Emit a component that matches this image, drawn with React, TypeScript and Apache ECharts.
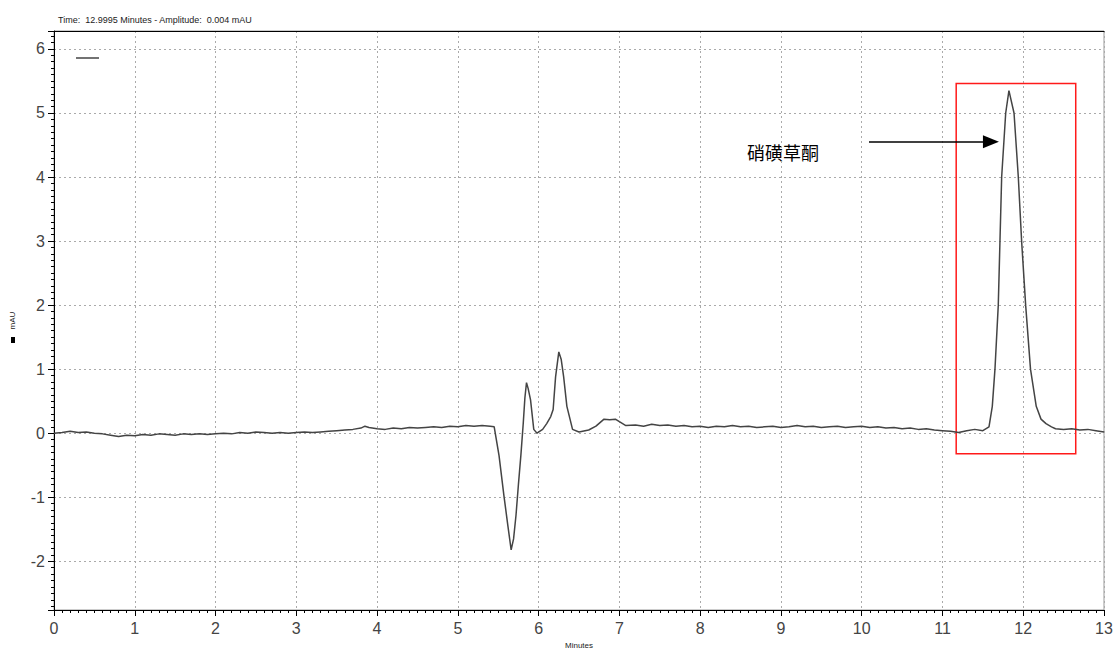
import React, { useEffect, useRef } from "react";
import * as echarts from "echarts";

const times: number[] = [
  0.0, 0.1, 0.2, 0.3, 0.4, 0.5, 0.6, 0.7, 0.8, 0.9,
  1.0, 1.1, 1.2, 1.3, 1.4, 1.5, 1.6, 1.7, 1.8, 1.9,
  2.0, 2.1, 2.2, 2.3, 2.4, 2.5, 2.6, 2.7, 2.8, 2.9,
  3.0, 3.1, 3.2, 3.3, 3.4, 3.5, 3.6, 3.7, 3.8, 3.85, 3.9,
  4.0, 4.1, 4.2, 4.3, 4.4, 4.5, 4.6, 4.7, 4.8, 4.9,
  5.0, 5.1, 5.2, 5.3, 5.4, 5.45, 5.51, 5.57, 5.62, 5.66, 5.69, 5.72, 5.75, 5.78,
  5.81, 5.83, 5.85, 5.87, 5.9, 5.94, 5.98, 6.05, 6.1, 6.15, 6.18, 6.21, 6.25, 6.28,
  6.31, 6.35, 6.42, 6.5, 6.62, 6.71, 6.81, 6.88, 6.95, 7.0, 7.08,
  7.2, 7.3, 7.4, 7.5, 7.6, 7.7, 7.8, 7.9,
  8.0, 8.1, 8.2, 8.3, 8.4, 8.5, 8.6, 8.7, 8.8, 8.9,
  9.0, 9.1, 9.2, 9.3, 9.4, 9.5, 9.6, 9.7, 9.8, 9.9,
  10.0, 10.1, 10.2, 10.3, 10.4, 10.5, 10.6, 10.7, 10.8, 10.9,
  11.0, 11.1, 11.2, 11.3, 11.4, 11.5, 11.576, 11.617, 11.65, 11.691, 11.712, 11.733,
  11.783, 11.823, 11.886, 11.939, 11.98, 12.03, 12.09, 12.161, 12.22, 12.282,
  12.35, 12.4, 12.5, 12.6, 12.7, 12.8, 12.9, 13.0,
];

const amplitudes: number[] = [
  0.0, 0.01, 0.03, 0.01, 0.02, 0.0, -0.01, -0.03, -0.05, -0.03,
  -0.04, -0.02, -0.03, -0.01, -0.02, -0.03, -0.01, -0.02, -0.01, -0.02,
  -0.01, 0.0, -0.01, 0.01, 0.0, 0.02, 0.01, 0.0, 0.01, 0.0,
  0.01, 0.02, 0.01, 0.02, 0.03, 0.04, 0.05, 0.06, 0.08, 0.11, 0.09,
  0.07, 0.06, 0.08, 0.07, 0.09, 0.08, 0.09, 0.1, 0.09, 0.11,
  0.1, 0.12, 0.11, 0.12, 0.11, 0.1, -0.35, -0.97, -1.45, -1.82, -1.65, -1.28, -0.8, -0.35,
  0.16, 0.55, 0.79, 0.7, 0.52, 0.06, 0.0, 0.06, 0.15, 0.26, 0.37, 0.88, 1.27, 1.15,
  0.88, 0.42, 0.06, 0.02, 0.05, 0.11, 0.22, 0.21, 0.22, 0.18, 0.12,
  0.13, 0.11, 0.14, 0.12, 0.13, 0.11, 0.12, 0.1,
  0.11, 0.09, 0.11, 0.1, 0.12, 0.1, 0.11, 0.09, 0.1, 0.11,
  0.09, 0.1, 0.12, 0.1, 0.11, 0.09, 0.1, 0.11, 0.09, 0.1,
  0.11, 0.09, 0.1, 0.08, 0.09, 0.07, 0.08, 0.06, 0.07, 0.05,
  0.04, 0.03, 0.01, 0.04, 0.06, 0.04, 0.1, 0.42, 1.0, 2.0, 3.0, 4.0,
  5.0, 5.35, 5.0, 4.0, 3.0, 2.0, 1.0, 0.42, 0.22, 0.15,
  0.1, 0.07, 0.06, 0.07, 0.05, 0.06, 0.04, 0.02,
];

const headerText = "Time:  12.9995 Minutes - Amplitude:  0.004 mAU";
const peakLabel = "硝磺草酮";
const xName = "Minutes";
const yName = "mAU";
const highlightBox = { x0: 11.17, x1: 12.65, y0: -0.32, y1: 5.46 };
const arrowFrom = [10.09, 4.55];
const arrowTo = [11.6, 4.55];

const SANS = "Liberation Sans, Arial, sans-serif";

export default function App() {
  const ref = useRef<HTMLDivElement>(null);
  useEffect(() => {
    if (!ref.current) return;
    const chart = echarts.init(ref.current, null, { renderer: "svg" });
    const data = times.map((t, i) => [t, amplitudes[i]]);
    chart.setOption({
      animation: false,
      backgroundColor: "#fff",
      title: {
        text: headerText,
        left: 53,
        top: 10,
        textStyle: { fontSize: 9, fontWeight: "normal", color: "#222", fontFamily: SANS },
      },
      grid: {
        left: 54,
        right: 16,
        top: 31,
        bottom: 38,
        show: true,
        borderColor: "#999",
        borderWidth: 1,
      },
      xAxis: [
        {
          type: "value",
          min: 0,
          max: 13,
          interval: 1,
          name: xName,
          nameLocation: "middle",
          nameGap: 31,
          nameTextStyle: { fontSize: 8, color: "#222", fontFamily: SANS },
          axisLine: { onZero: false, lineStyle: { color: "#000", width: 1 } },
          axisTick: { show: true, length: 6, lineStyle: { color: "#000" } },
          minorTick: { show: true, splitNumber: 10, length: 3, lineStyle: { color: "#000" } },
          axisLabel: { fontSize: 16, color: "#444", margin: 10, fontFamily: SANS },
          splitLine: { show: true, lineStyle: { color: "#aaa", type: [2, 3], width: 1 } },
        },
        {
          type: "value",
          position: "top",
          min: 0,
          max: 13,
          interval: 1,
          axisLine: { show: true, onZero: false, lineStyle: { color: "#000", width: 1 } },
          axisTick: { show: false },
          axisLabel: { show: false },
          splitLine: { show: false },
        },
      ],
      yAxis: {
        type: "value",
        min: -2.76,
        max: 6.28,
        splitNumber: 9,
        name: yName,
        nameLocation: "middle",
        nameGap: 38,
        nameRotate: 90,
        nameTextStyle: { fontSize: 8, color: "#222", fontFamily: SANS },
        axisLine: { onZero: false, lineStyle: { color: "#000", width: 1 } },
        axisTick: { show: true, length: 6, lineStyle: { color: "#000" } },
        minorTick: { show: true, splitNumber: 10, length: 3, lineStyle: { color: "#000" } },
        axisLabel: {
          fontSize: 16,
          color: "#444",
          margin: 9,
          fontFamily: SANS,
          showMinLabel: false,
          showMaxLabel: false,
          formatter: (v: number) => (Math.abs(v - Math.round(v)) < 1e-9 ? String(Math.round(v)) : ""),
        },
        splitLine: { show: true, lineStyle: { color: "#aaa", type: [2, 3], width: 1 } },
      },
      series: [
        {
          type: "line",
          data,
          showSymbol: false,
          symbol: "none",
          lineStyle: { color: "#444", width: 1.5 },
          markArea: {
            silent: true,
            itemStyle: { color: "rgba(0,0,0,0)", borderColor: "#ff1a1a", borderWidth: 1.5 },
            data: [[{ coord: [highlightBox.x0, highlightBox.y1] }, { coord: [highlightBox.x1, highlightBox.y0] }]],
          },
          markLine: {
            silent: true,
            symbol: ["none", "triangle"],
            symbolSize: [13, 16],
            lineStyle: { color: "#000", width: 1.5, type: "solid" },
            label: { show: false },
            data: [[{ coord: arrowFrom }, { coord: arrowTo }]],
          },
        },
      ],
      graphic: [
        {
          type: "text",
          left: 747,
          top: 143,
          style: { text: peakLabel, fontSize: 18, fill: "#000", fontFamily: "Noto Sans CJK SC, sans-serif" },
        },
        {
          type: "line",
          shape: { x1: 76, y1: 58, x2: 99, y2: 58 },
          style: { stroke: "#444", lineWidth: 1.5 },
        },
        {
          type: "rect",
          shape: { x: 11, y: 337, width: 4, height: 6 },
          style: { fill: "#000" },
        },
      ],
    });
    return () => chart.dispose();
  }, []);
  return (
    <div
      ref={ref}
      style={{ position: "fixed", left: 0, top: 0, width: 1120, height: 654 }}
    />
  );
}
